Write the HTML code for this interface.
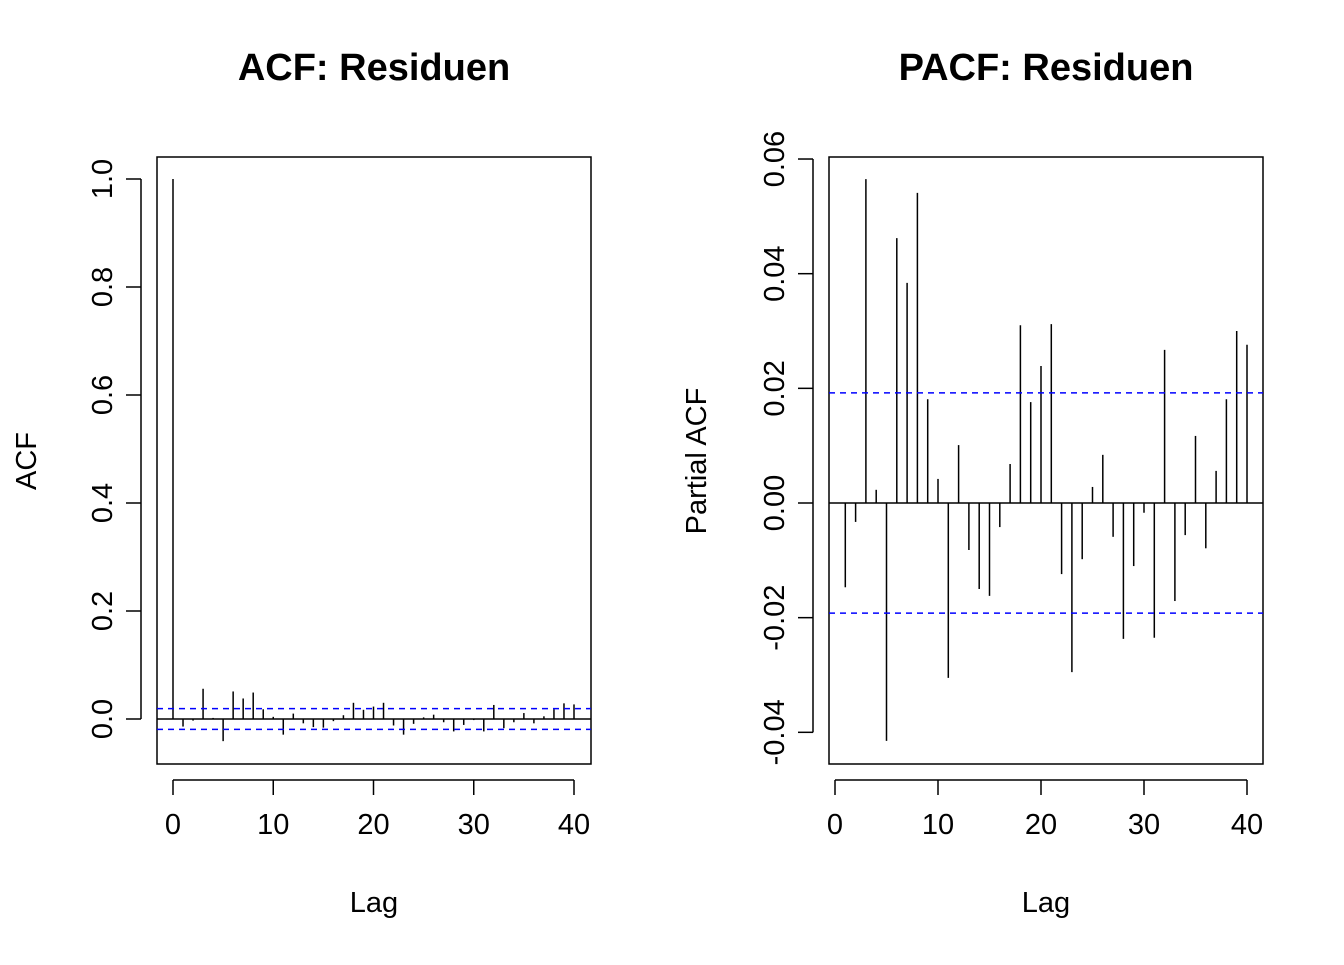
<!DOCTYPE html>
<html><head><meta charset="utf-8"><style>
html,body{margin:0;padding:0;background:#fff;}
svg text{font-family:"Liberation Sans",Arial,sans-serif;fill:#000;}
</style></head><body>
<svg id="s" width="1344" height="960" xmlns="http://www.w3.org/2000/svg"></svg>
<script>
const lags = Array.from({length:41},(_,i)=>i);
const acfValues = [1,-0.014,-0.003,0.056,0.002,-0.041,0.051,0.038,0.049,0.018,0.004,-0.029,0.010,-0.008,-0.015,-0.016,-0.004,0.007,0.030,0.017,0.023,0.030,-0.012,-0.029,-0.009,0.003,0.008,-0.006,-0.023,-0.011,-0.002,-0.023,0.026,-0.017,-0.006,0.011,-0.008,0.005,0.018,0.029,0.027];
const pacfValues = [-0.0147,-0.0033,0.0565,0.0023,-0.0415,0.0462,0.0384,0.0541,0.0181,0.0042,-0.0305,0.0101,-0.0082,-0.015,-0.0162,-0.0042,0.0068,0.031,0.0176,0.0239,0.0312,-0.0124,-0.0295,-0.0098,0.0028,0.0084,-0.0059,-0.0237,-0.011,-0.0017,-0.0235,0.0267,-0.0171,-0.0056,0.0117,-0.0079,0.0056,0.0181,0.03,0.0276];
const ciBound = 0.0192;
const xTicks = [0,10,20,30,40];
const acfYTicks = ["0.0","0.2","0.4","0.6","0.8","1.0"];
const pacfYTicks = ["-0.04","-0.02","0.00","0.02","0.04","0.06"];

const svg=document.getElementById('s');
const NS='http://www.w3.org/2000/svg';
function el(tag,attrs,parent,txt){const e=document.createElementNS(NS,tag);for(const k in attrs)e.setAttribute(k,attrs[k]);if(txt!==undefined)e.textContent=txt;(parent||svg).appendChild(e);return e;}

function panel(cfg){
  const g=el('g',{});
  
  
  const sx=v=>cfg.x0+(v-0)*(cfg.x40-cfg.x0)/40;
  const sy=v=>cfg.yZero-(v)*cfg.yScale;
  const box=el('rect',{x:cfg.bx,y:157,width:434,height:607,fill:'none',stroke:'#000','stroke-width':1.5},g);
  
  
  const t=el('text',{x:cfg.bx+217,y:80,'text-anchor':'middle','font-size':38,'font-weight':'bold'},g,cfg.title);
  
  
  const xa=el('g',{},g);
  
  
  el('line',{x1:sx(0),x2:sx(40),y1:780,y2:780,stroke:'#000','stroke-width':1.5},xa);
  xTicks.forEach(v=>{el('line',{x1:sx(v),x2:sx(v),y1:780,y2:795,stroke:'#000','stroke-width':1.5},xa);
    const tl=el('text',{x:sx(v),y:834,'text-anchor':'middle','font-size':29},xa,String(v));
    
    });
  const xl=el('text',{x:cfg.bx+217,y:912,'text-anchor':'middle','font-size':29},g,'Lag');
  
  
  const ya=el('g',{},g);
  
  
  const v0=parseFloat(cfg.yTicks[0]),v1=parseFloat(cfg.yTicks[cfg.yTicks.length-1]);
  el('line',{x1:cfg.bx-16,x2:cfg.bx-16,y1:sy(v0),y2:sy(v1),stroke:'#000','stroke-width':1.5},ya);
  cfg.yTicks.forEach(s=>{const v=parseFloat(s);const y=sy(v);
    el('line',{x1:cfg.bx-16,x2:cfg.bx-31,y1:y,y2:y,stroke:'#000','stroke-width':1.5},ya);
    const tl=el('text',{x:cfg.bx-45,y:y,'text-anchor':'middle','font-size':29,transform:`rotate(-90 ${cfg.bx-45} ${y})`},ya,s);
    
    });
  const yl=el('text',{x:cfg.ylx,y:461,'text-anchor':'middle','font-size':29,transform:`rotate(-90 ${cfg.ylx} 461)`},g,cfg.ylabel);
  
  
  el('line',{x1:cfg.bx,x2:cfg.bx+434,y1:sy(0),y2:sy(0),stroke:'#000','stroke-width':1.5},g);
  cfg.vals.forEach((v,i)=>{const lag=cfg.lagStart+i;
    const b=el('line',{x1:sx(lag),x2:sx(lag),y1:sy(0),y2:sy(v),stroke:'#000','stroke-width':1.5},g);
    
    });
  [ciBound,-ciBound].forEach(c=>{const l=el('line',{x1:cfg.bx,x2:cfg.bx+434,y1:sy(c),y2:sy(c),stroke:'#0000ff','stroke-width':1.5,'stroke-dasharray':'6,5'},g);
    
    });
}
panel({name:'acf-panel',bx:157,x0:173,x40:574,yZero:719,yScale:540,title:'ACF: Residuen',ylabel:'ACF',ylx:36,yTicks:acfYTicks,vals:acfValues,lagStart:0});
panel({name:'pacf-panel',bx:829,x0:835,x40:1247,yZero:503,yScale:5733,title:'PACF: Residuen',ylabel:'Partial ACF',ylx:706,yTicks:pacfYTicks,vals:pacfValues,lagStart:1});
</script>
</body></html>
